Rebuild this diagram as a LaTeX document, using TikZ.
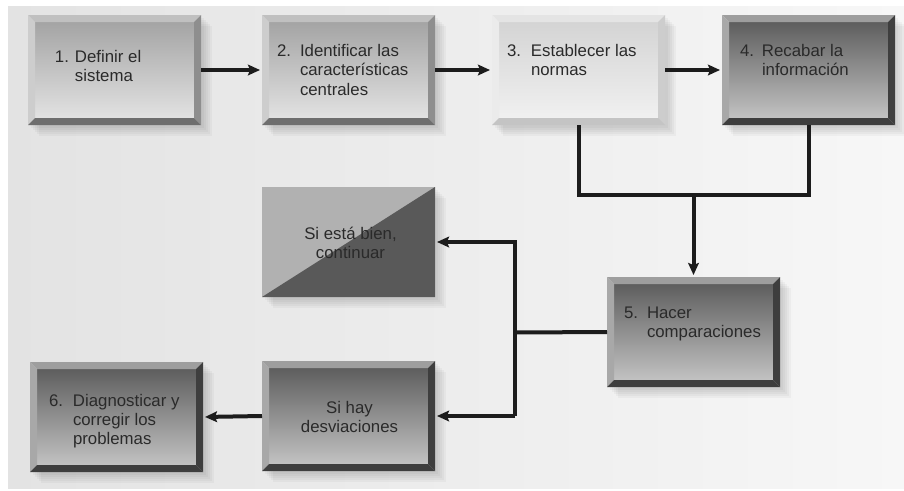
\documentclass[tikz,border=0pt]{standalone}
\usepackage{fontspec}
\setmainfont{Liberation Sans}
\usetikzlibrary{calc,arrows.meta}
\definecolor{bgL}{HTML}{E3E3E3}
\definecolor{bgR}{HTML}{F7F7F7}
\definecolor{txtc}{HTML}{2A2A2A}
\definecolor{linec}{HTML}{1C1C1C}
% light bevel
\definecolor{lTop}{HTML}{C0C0C0}
\definecolor{lLeft}{HTML}{CDCDCD}
\definecolor{lRight}{HTML}{8E8E8E}
\definecolor{lBot}{HTML}{6E6E6E}
\definecolor{lFaceT}{HTML}{A4A4A4}
\definecolor{lFaceB}{HTML}{E2E2E2}
% very light bevel
\definecolor{vTop}{HTML}{E4E4E4}
\definecolor{vLeft}{HTML}{EBEBEB}
\definecolor{vRight}{HTML}{CDCDCD}
\definecolor{vBot}{HTML}{C4C4C4}
\definecolor{vFaceT}{HTML}{D4D4D4}
\definecolor{vFaceB}{HTML}{F0F0F0}
% dark bevel
\definecolor{dTop}{HTML}{9E9E9E}
\definecolor{dLeft}{HTML}{A8A8A8}
\definecolor{dRight}{HTML}{3E3E3E}
\definecolor{dBot}{HTML}{3E3E3E}
\definecolor{dFaceT}{HTML}{5E5E5E}
\definecolor{dFaceB}{HTML}{C2C2C2}
% split box
\definecolor{sbL}{HTML}{B1B1B1}
\definecolor{sbD}{HTML}{595959}

\newcommand\softshadow[1]{%
  \foreach \d in {3,5,7,9,11}{%
    \fill[black,opacity=0.03] ($(#1.north west)+(\d,\d)$) rectangle ($(#1.south east)+(\d,\d)$);}}
\newcommand\bevelbox[7]{%
  \softshadow{#1}%
  \shade[top color=#6,bottom color=#7] ($(#1.north west)+(7,7)$) rectangle ($(#1.south east)+(-7,-7)$);
  \fill[#2] (#1.north west) -- (#1.north east) -- ($(#1.north east)+(-7,7)$) -- ($(#1.north west)+(7,7)$) -- cycle;
  \fill[#3] (#1.north west) -- ($(#1.north west)+(7,7)$) -- ($(#1.south west)+(7,-7)$) -- (#1.south west) -- cycle;
  \fill[#4] (#1.north east) -- (#1.south east) -- ($(#1.south east)+(-7,-7)$) -- ($(#1.north east)+(-7,7)$) -- cycle;
  \fill[#5] (#1.south west) -- (#1.south east) -- ($(#1.south east)+(-7,-7)$) -- ($(#1.south west)+(7,-7)$) -- cycle;
}
\newcommand\numl[3]{\makebox[#1][l]{#2}\begin{tabular}[t]{@{}l@{}}#3\end{tabular}}
\newcommand\ctrl[1]{\begin{tabular}[t]{@{}c@{}}#1\end{tabular}}

\begin{document}
\begin{tikzpicture}[x=0.75pt,y=-0.75pt,
  boxn/.style={draw=none,inner sep=0pt,outer sep=0pt,minimum width=129.75pt,minimum height=82.5pt,anchor=north west},
  txt/.style={inner sep=0pt,outer sep=0pt,text=txtc,font=\fontsize{12.6pt}{14.5pt}\selectfont},
  conn/.style={draw=linec,line width=3pt,line join=miter,line cap=butt},
  arr/.style={conn,-{Stealth[length=9pt,width=8pt,inset=1.5pt]},shorten >=1.5pt}]
\useasboundingbox (0,0) rectangle (904,490);
\fill[white] (0,0) rectangle (904,490);
\shade[left color=bgL,right color=bgR] (8,6) rectangle (904,488);

% box nodes
\node[boxn] (b1) at (28,15) {};
\node[boxn] (b2) at (262,15) {};
\node[boxn] (b3) at (492,15) {};
\node[boxn] (b4) at (722,15) {};
\node[boxn] (b5) at (607,277) {};
\node[boxn] (sb) at (262,187) {};
\node[boxn] (hay) at (262,361) {};
\node[boxn] (b6) at (30,362) {};

% box drawings
\bevelbox{b1}{lTop}{lLeft}{lRight}{lBot}{lFaceT}{lFaceB}
\bevelbox{b2}{lTop}{lLeft}{lRight}{lBot}{lFaceT}{lFaceB}
\bevelbox{b3}{vTop}{vLeft}{vRight}{vBot}{vFaceT}{vFaceB}
\bevelbox{b4}{dTop}{dLeft}{dRight}{dBot}{dFaceT}{dFaceB}
\bevelbox{b5}{dTop}{dLeft}{dRight}{dBot}{dFaceT}{dFaceB}
\bevelbox{hay}{dTop}{dLeft}{dRight}{dBot}{dFaceT}{dFaceB}
\bevelbox{b6}{dTop}{dLeft}{dRight}{dBot}{dFaceT}{dFaceB}
\softshadow{sb}
\fill[sbL] (sb.north west) rectangle (sb.south east);
\fill[sbD] (sb.south west) -- (sb.north east) -- (sb.south east) -- cycle;

% texts
\node[txt,anchor=base west] (t1) at (55,62) {\numl{15pt}{1.}{Definir el\\sistema}};
\node[txt,anchor=base west] (t2) at (277,56.5) {\numl{17.25pt}{2.}{Identificar las\\características\\centrales}};
\node[txt,anchor=base west] (t3) at (507,56.5) {\numl{18pt}{3.}{Establecer las\\normas}};
\node[txt,anchor=base west] (t4) at (740,56.5) {\numl{16.5pt}{4.}{Recabar la\\información}};
\node[txt,anchor=base west] (t5) at (624,318) {\numl{17.25pt}{5.}{Hacer\\comparaciones}};
\node[txt,anchor=base west] (t6) at (49,406) {\numl{18pt}{6.}{Diagnosticar y\\corregir los\\problemas}};
\node[txt,anchor=base] (tsb) at (350.5,239) {\ctrl{Si está bien,\\continuar}};
\node[txt,anchor=base] (thay) at (349.5,413) {\ctrl{Si hay\\desviaciones}};

% connectors
\coordinate (j) at (693.5,195);
\coordinate (k) at (515,332.5);
\draw[arr] (b1.east) -- (b2.west);
\draw[arr] (b2.east) -- (b3.west);
\draw[arr] (b3.east) -- (b4.west);
\draw[conn] (b3.south) |- (j) -| (b4.south);
\draw[arr] (j) -- (b5.north);
\draw[conn] (b5.west) -- (k);
\draw[arr] (k |- hay.east) -- (k |- sb.east) -- (sb.east);
\draw[arr] (k |- hay.east) -- (hay.east);
\draw[arr] (hay.west) -- (b6.east);
\end{tikzpicture}
\end{document}
